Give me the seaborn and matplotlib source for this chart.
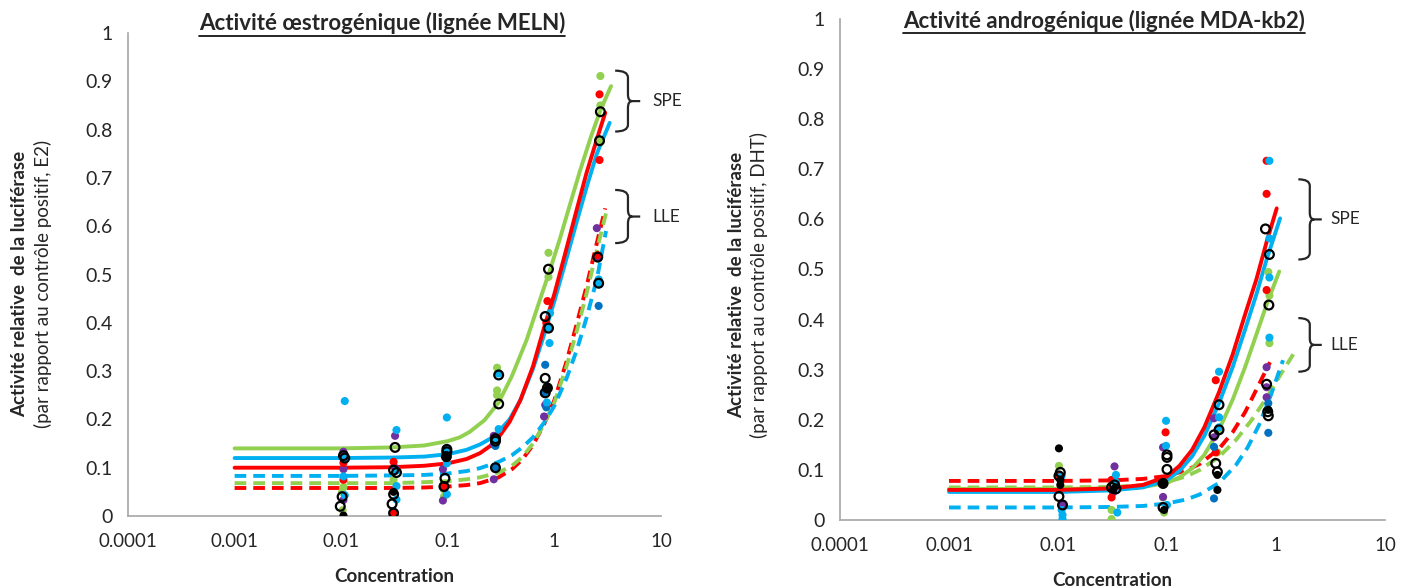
import numpy as np
import pandas as pd
import matplotlib
matplotlib.use("Agg")
import matplotlib.pyplot as plt
from matplotlib.path import Path
from matplotlib.patches import PathPatch
from matplotlib.lines import Line2D
from matplotlib.ticker import FixedLocator, FuncFormatter, LogLocator, NullFormatter
import seaborn as sns

# couleurs (palette Excel)
GREEN = "#92D050"
RED = "#FF0000"
BLUE = "#00B0F0"
PURPLE = "#7030A0"
DBLUE = "#0070C0"
BLACK = "#000000"

# ---------------- MELN : courbes ajustées ----------------
meln_spe_green_x = [0.001, 0.01, 0.03, 0.06, 0.1, 0.13, 0.16, 0.22, 0.3, 0.4, 0.55, 0.7, 0.91, 1.13, 1.4, 1.74, 2.2, 2.7, 3.4]
meln_spe_green_y = [0.14, 0.14, 0.142, 0.146, 0.155, 0.163, 0.174, 0.198, 0.235, 0.29, 0.365, 0.435, 0.51, 0.575, 0.645, 0.715, 0.785, 0.84, 0.89]
meln_spe_red_x = [0.001, 0.01, 0.03, 0.06, 0.1, 0.15, 0.2, 0.25, 0.3, 0.38, 0.48, 0.63, 0.8, 1.0, 1.25, 1.6, 2.0, 2.5, 3.0]
meln_spe_red_y = [0.10, 0.10, 0.101, 0.104, 0.109, 0.118, 0.13, 0.145, 0.163, 0.195, 0.24, 0.31, 0.39, 0.46, 0.54, 0.63, 0.71, 0.78, 0.835]
meln_spe_blue_x = [0.001, 0.01, 0.03, 0.06, 0.1, 0.15, 0.2, 0.25, 0.3, 0.38, 0.48, 0.63, 0.8, 1.0, 1.25, 1.6, 2.0, 2.5, 3.3]
meln_spe_blue_y = [0.12, 0.12, 0.121, 0.123, 0.128, 0.137, 0.148, 0.16, 0.175, 0.2, 0.24, 0.305, 0.375, 0.445, 0.52, 0.605, 0.68, 0.75, 0.814]
meln_lle_red_x = [0.001, 0.01, 0.03, 0.06, 0.1, 0.15, 0.2, 0.3, 0.4, 0.5, 0.63, 0.8, 1.0, 1.3, 1.63, 2.0, 2.5, 3.0]
meln_lle_red_y = [0.058, 0.058, 0.058, 0.059, 0.061, 0.064, 0.068, 0.08, 0.097, 0.117, 0.147, 0.19, 0.24, 0.32, 0.4, 0.475, 0.565, 0.637]
meln_lle_green_x = [0.001, 0.01, 0.03, 0.06, 0.1, 0.15, 0.2, 0.3, 0.4, 0.5, 0.63, 0.8, 1.0, 1.3, 1.63, 2.0, 2.5, 3.05]
meln_lle_green_y = [0.068, 0.068, 0.068, 0.07, 0.072, 0.076, 0.08, 0.09, 0.104, 0.122, 0.15, 0.19, 0.235, 0.31, 0.385, 0.46, 0.55, 0.627]
meln_lle_blue_x = [0.001, 0.01, 0.03, 0.06, 0.1, 0.15, 0.2, 0.3, 0.4, 0.5, 0.63, 0.8, 1.0, 1.3, 1.63, 2.0, 2.5, 3.05]
meln_lle_blue_y = [0.083, 0.083, 0.084, 0.085, 0.088, 0.093, 0.099, 0.112, 0.126, 0.142, 0.163, 0.193, 0.228, 0.285, 0.345, 0.41, 0.49, 0.59]

# ---------------- MELN : points ----------------
meln_green_x = [0.0105, 0.0102, 0.0103, 0.031, 0.031, 0.094, 0.092, 0.092, 0.29, 0.29, 0.29, 0.88, 0.88, 2.7, 2.7, 2.7]
meln_green_y = [0.06, 0.05, 0.012, 0.075, 0.006, 0.13, 0.055, 0.04, 0.307, 0.26, 0.25, 0.545, 0.495, 0.911, 0.85, 0.777]
meln_red_x = [0.0105, 0.0105, 0.031, 0.031, 0.097, 0.092, 0.86, 0.84, 2.65, 2.65, 2.55]
meln_red_y = [0.11, 0.075, 0.112, 0.005, 0.12, 0.06, 0.445, 0.40, 0.873, 0.737, 0.54]
meln_blue_x = [0.0108, 0.0108, 0.0105, 0.0108, 0.033, 0.033, 0.033, 0.033, 0.098, 0.098, 0.098, 0.098,
               0.3, 0.3, 0.28, 0.91, 0.9, 0.9, 0.85, 2.6, 2.65]
meln_blue_y = [0.238, 0.12, 0.082, 0.043, 0.178, 0.094, 0.062, 0.034, 0.204, 0.138, 0.109, 0.045,
               0.295, 0.18, 0.155, 0.42, 0.39, 0.358, 0.235, 0.49, 0.48]
meln_purple_x = [0.0105, 0.0105, 0.0105, 0.032, 0.032, 0.09, 0.09, 0.27, 0.27, 0.27, 0.85, 0.82, 0.8, 2.5, 2.55]
meln_purple_y = [0.133, 0.097, 0.033, 0.166, 0.1, 0.097, 0.032, 0.166, 0.148, 0.076, 0.26, 0.23, 0.206, 0.596, 0.536]
meln_dblue_x = [0.28, 0.28, 0.82, 0.84, 0.8, 2.6, 2.65]
meln_dblue_y = [0.1, 0.145, 0.313, 0.225, 0.255, 0.435, 0.48]
meln_black_x = [0.0105, 0.031, 0.097, 0.87]
meln_black_y = [0.001, 0.05, 0.12, 0.265]
meln_open_x = [0.0105, 0.0108, 0.0102, 0.0098, 0.032, 0.031, 0.033, 0.031, 0.030, 0.031,
               0.098, 0.098, 0.097, 0.094, 0.092, 0.3, 0.3, 0.28, 0.28, 0.28,
               0.88, 0.82, 0.88, 0.82, 0.82, 0.86, 2.7, 2.65, 2.55, 2.6]
meln_open_y = [0.125, 0.12, 0.04, 0.02, 0.142, 0.095, 0.09, 0.045, 0.025, 0.006,
               0.138, 0.133, 0.123, 0.078, 0.061, 0.292, 0.232, 0.16, 0.155, 0.1,
               0.511, 0.413, 0.389, 0.285, 0.255, 0.265, 0.837, 0.777, 0.536, 0.482]

# ---------------- MDA-kb2 : courbes ajustées ----------------
mda_spe_red_x = [0.001, 0.01, 0.03, 0.06, 0.1, 0.13, 0.17, 0.22, 0.3, 0.4, 0.52, 0.66, 0.82, 1.015]
mda_spe_red_y = [0.06, 0.06, 0.063, 0.07, 0.087, 0.108, 0.14, 0.185, 0.255, 0.33, 0.41, 0.48, 0.555, 0.622]
mda_spe_blue_x = [0.001, 0.01, 0.03, 0.06, 0.1, 0.13, 0.17, 0.22, 0.3, 0.4, 0.52, 0.66, 0.82, 1.09]
mda_spe_blue_y = [0.056, 0.056, 0.059, 0.065, 0.08, 0.098, 0.127, 0.168, 0.233, 0.305, 0.38, 0.45, 0.52, 0.602]
mda_spe_green_x = [0.001, 0.01, 0.03, 0.06, 0.1, 0.13, 0.17, 0.22, 0.3, 0.4, 0.52, 0.66, 0.82, 1.07]
mda_spe_green_y = [0.062, 0.062, 0.063, 0.066, 0.074, 0.085, 0.103, 0.13, 0.18, 0.24, 0.305, 0.37, 0.43, 0.496]
mda_lle_red_x = [0.001, 0.01, 0.03, 0.06, 0.1, 0.15, 0.2, 0.3, 0.4, 0.52, 0.66, 0.88]
mda_lle_red_y = [0.078, 0.078, 0.079, 0.082, 0.088, 0.099, 0.112, 0.142, 0.175, 0.215, 0.26, 0.315]
mda_lle_green_x = [0.001, 0.01, 0.03, 0.06, 0.1, 0.15, 0.2, 0.3, 0.43, 0.6, 0.81, 1.1, 1.49]
mda_lle_green_y = [0.065, 0.065, 0.066, 0.069, 0.076, 0.087, 0.1, 0.126, 0.16, 0.2, 0.242, 0.29, 0.336]
mda_lle_blue_x = [0.001, 0.01, 0.03, 0.06, 0.1, 0.15, 0.2, 0.3, 0.43, 0.55, 0.7, 0.9, 1.16]
mda_lle_blue_y = [0.025, 0.025, 0.026, 0.028, 0.033, 0.041, 0.051, 0.074, 0.11, 0.145, 0.19, 0.25, 0.319]

# ---------------- MDA-kb2 : points ----------------
mda_green_x = [0.0102, 0.031, 0.031, 0.092, 0.092, 0.094, 0.29, 0.3, 0.85, 0.87, 0.87, 0.85]
mda_green_y = [0.108, 0.02, 0.002, 0.07, 0.045, 0.015, 0.135, 0.18, 0.495, 0.448, 0.353, 0.22]
mda_red_x = [0.0102, 0.031, 0.031, 0.097, 0.28, 0.28, 0.82, 0.82, 0.82]
mda_red_y = [0.088, 0.08, 0.045, 0.175, 0.279, 0.135, 0.717, 0.651, 0.459]
mda_blue_x = [0.0108, 0.0108, 0.011, 0.011, 0.034, 0.034, 0.035, 0.098, 0.098, 0.1,
              0.3, 0.3, 0.3, 0.87, 0.87, 0.87, 0.87]
mda_blue_y = [0.088, 0.02, 0.01, 0.002, 0.09, 0.075, 0.015, 0.198, 0.148, 0.03,
              0.296, 0.205, 0.185, 0.717, 0.562, 0.484, 0.364]
mda_purple_x = [0.011, 0.033, 0.032, 0.092, 0.092, 0.27, 0.27, 0.82, 0.82, 0.82]
mda_purple_y = [0.03, 0.107, 0.055, 0.145, 0.046, 0.203, 0.165, 0.305, 0.265, 0.245]
mda_dblue_x = [0.27, 0.27, 0.85, 0.85]
mda_dblue_y = [0.146, 0.043, 0.233, 0.174]
mda_black_x = [0.0102, 0.0105, 0.0105, 0.032, 0.092, 0.094, 0.29, 0.29, 0.85]
mda_black_y = [0.143, 0.07, 0.08, 0.06, 0.073, 0.02, 0.09, 0.06, 0.22]
mda_open_x = [0.0105, 0.0102, 0.0102, 0.011, 0.031, 0.034, 0.033, 0.1, 0.1, 0.1, 0.092, 0.092,
              0.3, 0.27, 0.3, 0.28, 0.29, 0.8, 0.87, 0.86, 0.82, 0.84, 0.85]
mda_open_y = [0.095, 0.088, 0.047, 0.03, 0.065, 0.062, 0.07, 0.13, 0.125, 0.101, 0.073, 0.025,
              0.23, 0.17, 0.18, 0.113, 0.096, 0.581, 0.53, 0.429, 0.271, 0.216, 0.208]

sns.set_style("white")
plt.rcParams['font.family'] = ['Lato', 'DejaVu Sans']

fig = plt.figure(figsize=(14.1, 5.88), dpi=100)
ax1 = fig.add_axes([128 / 1410, 72 / 588, 533 / 1410, 483 / 588])
ax2 = fig.add_axes([840 / 1410, 68 / 588, 545 / 1410, 501 / 588])


def draw_curve(ax, x, y, color, dashed):
    df = pd.DataFrame({"conc": x, "act": y})
    ls = (0, (3, 1.8)) if dashed else "-"
    sns.lineplot(data=df, x="conc", y="act", ax=ax, color=color, lw=2.8,
                 linestyle=ls, sort=False, estimator=None, zorder=2)


def draw_points(ax, x, y, color):
    sns.scatterplot(x=x, y=y, ax=ax, color=color, s=34, edgecolor="none",
                    zorder=3, legend=False)


def draw_open(ax, x, y):
    sns.scatterplot(x=x, y=y, ax=ax, color="black", s=40, linewidth=1.6,
                    zorder=4, legend=False)
    coll = ax.collections[-1]
    coll.set_facecolor("none")
    coll.set_edgecolor("black")


def brace(ax, x0, x1, x2, ytop, ybot, dx=0.008, r=0.014):
    ym = (ytop + ybot) / 2
    verts = [(x0, ytop), (x1, ytop), (x1, ytop - r),
             (x1, ym + r),
             (x1, ym), (x1 + dx, ym),
             (x2, ym),
             (x1 + dx, ym),
             (x1, ym), (x1, ym - r),
             (x1, ybot + r),
             (x1, ybot), (x0, ybot)]
    codes = [Path.MOVETO, Path.CURVE3, Path.CURVE3,
             Path.LINETO,
             Path.CURVE3, Path.CURVE3,
             Path.LINETO,
             Path.MOVETO,
             Path.CURVE3, Path.CURVE3,
             Path.LINETO,
             Path.CURVE3, Path.CURVE3]
    patch = PathPatch(Path(verts, codes), transform=ax.transAxes, fill=False,
                      lw=1.6, edgecolor="#262626", clip_on=False)
    ax.add_patch(patch)


def style_axes(ax):
    ax.set_xscale("log")
    ax.set_xlim(1e-4, 10)
    ax.set_ylim(0, 1)
    ax.yaxis.set_major_locator(FixedLocator(np.round(np.arange(0, 1.01, 0.1), 1)))
    ax.yaxis.set_major_formatter(FuncFormatter(lambda v, p: f"{v:g}"))
    ax.xaxis.set_major_locator(LogLocator(base=10, numticks=10))
    ax.xaxis.set_minor_locator(LogLocator(base=10, subs=np.arange(2, 10), numticks=20))
    ax.xaxis.set_major_formatter(FuncFormatter(lambda v, p: f"{v:g}"))
    ax.xaxis.set_minor_formatter(NullFormatter())
    for s in ["top", "right"]:
        ax.spines[s].set_visible(False)
    for s in ["left", "bottom"]:
        ax.spines[s].set_color("#A6A6A6")
        ax.spines[s].set_linewidth(1.2)
    ax.tick_params(axis="y", which="major", length=4, width=1.1, color="#A6A6A6",
                   labelsize=14, pad=7, labelcolor="#262626")
    ax.tick_params(axis="x", which="major", length=5.5, width=1.1, color="#A6A6A6",
                   labelsize=13.5, pad=7, labelcolor="#262626")
    ax.tick_params(axis="x", which="minor", length=4, width=1.0, color="#A6A6A6")
    ax.set_ylabel("")
    ax.set_xlabel("Concentration", fontsize=13.5, fontweight="bold")
    ax.patch.set_alpha(0)


# --- panneau MELN
draw_curve(ax1, meln_lle_red_x, meln_lle_red_y, RED, True)
draw_curve(ax1, meln_lle_green_x, meln_lle_green_y, GREEN, True)
draw_curve(ax1, meln_lle_blue_x, meln_lle_blue_y, BLUE, True)
draw_curve(ax1, meln_spe_green_x, meln_spe_green_y, GREEN, False)
draw_curve(ax1, meln_spe_blue_x, meln_spe_blue_y, BLUE, False)
draw_curve(ax1, meln_spe_red_x, meln_spe_red_y, RED, False)
draw_points(ax1, meln_green_x, meln_green_y, GREEN)
draw_points(ax1, meln_purple_x, meln_purple_y, PURPLE)
draw_points(ax1, meln_red_x, meln_red_y, RED)
draw_points(ax1, meln_dblue_x, meln_dblue_y, DBLUE)
draw_points(ax1, meln_blue_x, meln_blue_y, BLUE)
draw_points(ax1, meln_black_x, meln_black_y, BLACK)
draw_open(ax1, meln_open_x, meln_open_y)

# --- panneau MDA-kb2
draw_curve(ax2, mda_lle_red_x, mda_lle_red_y, RED, True)
draw_curve(ax2, mda_lle_green_x, mda_lle_green_y, GREEN, True)
draw_curve(ax2, mda_lle_blue_x, mda_lle_blue_y, BLUE, True)
draw_curve(ax2, mda_spe_green_x, mda_spe_green_y, GREEN, False)
draw_curve(ax2, mda_spe_blue_x, mda_spe_blue_y, BLUE, False)
draw_curve(ax2, mda_spe_red_x, mda_spe_red_y, RED, False)
draw_points(ax2, mda_green_x, mda_green_y, GREEN)
draw_points(ax2, mda_purple_x, mda_purple_y, PURPLE)
draw_points(ax2, mda_red_x, mda_red_y, RED)
draw_points(ax2, mda_dblue_x, mda_dblue_y, DBLUE)
draw_points(ax2, mda_blue_x, mda_blue_y, BLUE)
draw_points(ax2, mda_black_x, mda_black_y, BLACK)
draw_open(ax2, mda_open_x, mda_open_y)

for ax in (ax1, ax2):
    style_axes(ax)

ax1.xaxis.set_label_coords(0.5, -60 / 483)
ax2.xaxis.set_label_coords(0.5, -61 / 501)
ax1.xaxis.label.set_va("center")
ax2.xaxis.label.set_va("center")

# accolades SPE / LLE
brace(ax1, 0.914, 0.938, 0.961, 0.922, 0.796)
brace(ax1, 0.914, 0.938, 0.961, 0.675, 0.565)
ax1.text(0.983, 0.859, "SPE", transform=ax1.transAxes, fontsize=12.5, va="center",
         ha="left", color="#262626", clip_on=False)
ax1.text(0.983, 0.62, "LLE", transform=ax1.transAxes, fontsize=12.5, va="center",
         ha="left", color="#262626", clip_on=False)
brace(ax2, 0.841, 0.862, 0.884, 0.680, 0.520, r=0.013)
brace(ax2, 0.841, 0.862, 0.884, 0.403, 0.296, r=0.013)
ax2.text(0.899, 0.60, "SPE", transform=ax2.transAxes, fontsize=12.5, va="center",
         ha="left", color="#262626", clip_on=False)
ax2.text(0.899, 0.349, "LLE", transform=ax2.transAxes, fontsize=12.5, va="center",
         ha="left", color="#262626", clip_on=False)

# titres ordonnées (deux lignes, poids différents)
fig.text(20 / 1410, 1 - 284 / 588, "Activité relative  de la luciférase", rotation=90,
         ha="center", va="center", fontsize=13.5, fontweight="bold")
fig.text(43 / 1410, 1 - 284 / 588, "(par rapport au contrôle positif, E2)", rotation=90,
         ha="center", va="center", fontsize=13.5)
fig.text(737 / 1410, 1 - 285 / 588, "Activité relative  de la luciférase", rotation=90,
         ha="center", va="center", fontsize=13.5, fontweight="bold")
fig.text(759 / 1410, 1 - 285 / 588, "(par rapport au contrôle positif, DHT)", rotation=90,
         ha="center", va="center", fontsize=13.5)

# titres soulignés
t1 = fig.text(382 / 1410, 1 - 23 / 588, "Activité œstrogénique (lignée MELN)",
              ha="center", va="center", fontsize=16, fontweight="bold")
t2 = fig.text(1104 / 1410, 1 - 21 / 588, "Activité androgénique (lignée MDA-kb2)",
              ha="center", va="center", fontsize=16, fontweight="bold")
fig.canvas.draw()
inv = fig.transFigure.inverted()
for t, yline in ((t1, 36), (t2, 33)):
    bb = t.get_window_extent()
    (xa, _), (xb, _) = inv.transform([(bb.x0, 0), (bb.x1, 0)])
    fig.add_artist(Line2D([xa, xb], [1 - yline / 588, 1 - yline / 588],
                          transform=fig.transFigure, color="black", lw=1.2))

fig.savefig("out.png", dpi=100)
